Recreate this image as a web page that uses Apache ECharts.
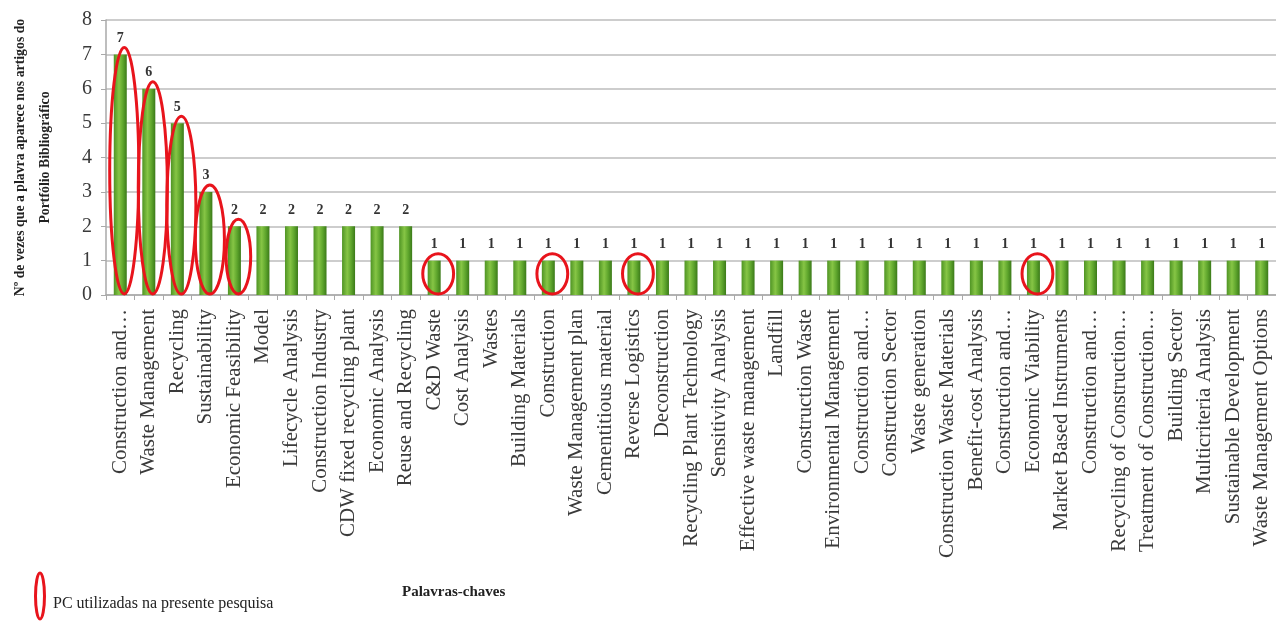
<!DOCTYPE html>
<html>
<head>
<meta charset="utf-8">
<script src="https://cdn.jsdelivr.net/npm/echarts@6/dist/echarts.min.js"></script>
<style>
html,body{margin:0;padding:0;background:#fff;}
#c{width:1276px;height:621px;}
</style>
</head>
<body>
<div id="c"></div>
<script>
const categories = [
  "Construction and…","Waste Management","Recycling","Sustainability","Economic Feasibility",
  "Model","Lifecycle Analysis","Construction Industry","CDW fixed recycling plant","Economic Analysis",
  "Reuse and Recycling","C&D Waste","Cost Analysis","Wastes","Building Materials",
  "Construction","Waste Management plan","Cementitious material","Reverse Logistics","Deconstruction",
  "Recycling Plant Technology","Sensitivity Analysis","Effective waste management","Landfill","Construction Waste",
  "Environmental Management","Construction and…","Construction Sector","Waste generation","Construction Waste Materials",
  "Benefit-cost Analysis","Construction and…","Economic Viability","Market Based Instruments","Construction and…",
  "Recycling of Construction…","Treatment of Construction…","Building Sector","Multicriteria Analysis","Sustainable Development",
  "Waste Management Options"
];
const counts = [7,6,5,3,2,2,2,2,2,2,2,1,1,1,1,1,1,1,1,1,1,1,1,1,1,1,1,1,1,1,1,1,1,1,1,1,1,1,1,1,1];
const usedKeywords = [0,1,2,3,4,11,15,18,32];
const yTicks = [0,1,2,3,4,5,6,7,8];

const serif = '"Liberation Serif","DejaVu Serif",serif';
const chart = echarts.init(document.getElementById('c'));

const ellipseData = usedKeywords.map(i => [i, counts[i]]);

chart.setOption({
  animation:false,
  backgroundColor:'#fff',
  grid:{left:103, top:20, width:1175, bottom:326, containLabel:false},
  xAxis:{
    type:'category', data:categories,
    axisLine:{lineStyle:{color:'#a9a9a9', width:1.5}},
    axisTick:{show:true, length:5, lineStyle:{color:'#a9a9a9'}},
    axisLabel:{rotate:90, interval:0, margin:14, fontFamily:serif, fontSize:21, color:'#3a3a3a'}
  },
  yAxis:{
    type:'value', min:yTicks[0], max:yTicks[yTicks.length-1], interval:1,
    name:'Nº de vezes que a plavra aparece nos artigos do\nPortfólio Bibliográfico',
    nameLocation:'middle', nameGap:48, nameRotate:90,
    nameTextStyle:{fontFamily:serif, fontWeight:'bold', fontSize:13.8, color:'#222', lineHeight:25},
    axisLine:{show:true, lineStyle:{color:'#a9a9a9', width:1.5}},
    axisTick:{show:true, length:5, lineStyle:{color:'#a9a9a9'}},
    axisLabel:{fontFamily:serif, fontSize:20, color:'#3a3a3a', margin:14},
    splitLine:{lineStyle:{color:'#bcbcbc', width:1.5}}
  },
  series:[
    {
      type:'bar', data:counts, barWidth:13,
      itemStyle:{color:new echarts.graphic.LinearGradient(0,0,1,0,[
        {offset:0,color:'#4f9424'},{offset:0.4,color:'#86c545'},{offset:0.7,color:'#5fa62d'},{offset:1,color:'#3b7a19'}])},
      label:{show:true, position:'top', distance:9, fontFamily:serif, fontWeight:'bold', fontSize:14, color:'#333'}
    },
    {
      type:'custom', data:ellipseData, z:10, silent:true,
      renderItem:function(params, api){
        const i = api.value(0), v = api.value(1);
        const top = api.coord([i, v]);
        const bot = api.coord([i, 0]);
        const band = api.size([1,0])[0];
        const y1 = top[1] - 7, y2 = bot[1] - 1;
        const rx = v >= 3 ? band*0.51 : (v >= 2 ? band*0.43 : band*0.54);
        return {
          type:'ellipse',
          shape:{cx:top[0]+4, cy:(y1+y2)/2, rx:rx, ry:(y2-y1)/2},
          style:{fill:'none', stroke:'#e8141c', lineWidth:3}
        };
      }
    }
  ],
  graphic:[
    {type:'ellipse', shape:{cx:40, cy:596, rx:4.5, ry:23}, style:{fill:'none', stroke:'#e8141c', lineWidth:3}},
    {type:'text', left:53, top:596, style:{text:'PC utilizadas na presente pesquisa', font:'16px '+serif, fill:'#222'}},
    {type:'text', left:402, top:585, style:{text:'Palavras-chaves', font:'bold 15px '+serif, fill:'#222'}}
  ]
});
</script>
</body>
</html>
